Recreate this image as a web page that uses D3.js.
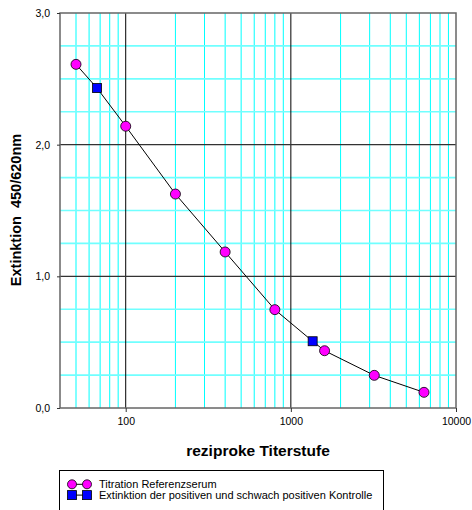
<!DOCTYPE html>
<html>
<head>
<meta charset="utf-8">
<script src="https://cdn.jsdelivr.net/npm/d3@7"></script>
<style>
  body { margin: 0; background: #fff; }
  text { font-family: "Liberation Sans", Arial, sans-serif; }
</style>
</head>
<body>
<div id="chart"></div>
<script>
// Titration des Referenzserums
const titerX = [50, 100, 200, 400, 800, 1600, 3200, 6400];
const titerY = [2.61, 2.14, 1.625, 1.185, 0.747, 0.435, 0.248, 0.119];
// Kontrollen (positiv, schwach positiv)
const controlX = [67, 1355];
const controlY = [2.43, 0.507];

const xTicks = [100, 1000, 10000];
const yTicks = [0, 1, 2, 3];
const xMinor = [50, 60, 70, 80, 90, 200, 300, 400, 500, 600, 700, 800, 900,
                2000, 3000, 4000, 5000, 6000, 7000, 8000, 9000];
const yMinor = [0.25, 0.5, 0.75, 1.25, 1.5, 1.75, 2.25, 2.5, 2.75];

const legendLabels = ['Titration Referenzserum',
                      'Extinktion der positiven und schwach positiven Kontrolle'];

const W = 472, H = 510;
const margin = {top: 13, right: 16, bottom: 102, left: 60};
const width = W - margin.left - margin.right,
      height = H - margin.top - margin.bottom;

const svg = d3.select('#chart').append('svg')
    .attr('width', W)
    .attr('height', H);

const g = svg.append('g')
    .attr('transform', 'translate(' + margin.left + ',' + margin.top + ')');

const x = d3.scaleLog().domain([40, 10000]).range([0, width]);
const y = d3.scaleLinear().domain([0, 3]).range([height, 0]);

// minor grid
g.selectAll('.vminor').data(xMinor).enter().append('line')
    .attr('x1', d => x(d)).attr('x2', d => x(d))
    .attr('y1', 0).attr('y2', height)
    .attr('stroke', '#00ffff').attr('stroke-width', 1);

g.selectAll('.hminor').data(yMinor).enter().append('line')
    .attr('x1', 0).attr('x2', width)
    .attr('y1', d => y(d)).attr('y2', d => y(d))
    .attr('stroke', '#70ffff').attr('stroke-width', 1.6);

// major grid
g.selectAll('.vmajor').data([100, 1000]).enter().append('line')
    .attr('x1', d => x(d)).attr('x2', d => x(d))
    .attr('y1', 0).attr('y2', height)
    .attr('stroke', '#000').attr('stroke-width', 1);

g.selectAll('.hmajor').data([1, 2]).enter().append('line')
    .attr('x1', 0).attr('x2', width)
    .attr('y1', d => y(d)).attr('y2', d => y(d))
    .attr('stroke', '#333').attr('stroke-width', 1.2);

// frame
g.append('rect')
    .attr('width', width).attr('height', height)
    .attr('fill', 'none').attr('stroke', '#666').attr('stroke-width', 1.5);

// axes
const xAxis = g.append('g')
    .attr('transform', 'translate(0,' + height + ')')
    .call(d3.axisBottom(x).tickValues(xTicks).tickFormat(d3.format('d'))
      .tickSize(4).tickSizeOuter(0).tickPadding(6));

const yAxis = g.append('g')
    .call(d3.axisLeft(y).tickValues(yTicks).tickFormat(d => d3.format('.1f')(d).replace('.', ','))
      .tickSize(3).tickSizeOuter(0).tickPadding(7));

[xAxis, yAxis].forEach(a => {
  a.select('.domain').remove();
  a.selectAll('line').attr('stroke', '#333');
  a.selectAll('text').attr('font-size', 10.5).attr('fill', '#000')
    .style('font-family', '"Liberation Sans", Arial, sans-serif');
});

// line through all points
const all = titerX.map((v, i) => [v, titerY[i]])
    .concat(controlX.map((v, i) => [v, controlY[i]]))
    .sort((a, b) => a[0] - b[0]);

g.append('path')
    .datum(all)
    .attr('fill', 'none')
    .attr('stroke', '#000')
    .attr('stroke-width', 1)
    .attr('d', d3.line().x(d => x(d[0])).y(d => y(d[1])));

g.selectAll('.titer').data(titerX).enter().append('circle')
    .attr('cx', d => x(d))
    .attr('cy', (d, i) => y(titerY[i]))
    .attr('r', 5)
    .attr('fill', '#ff00ff').attr('stroke', '#000').attr('stroke-width', 0.8);

g.selectAll('.control').data(controlX).enter().append('rect')
    .attr('x', d => x(d) - 4.5)
    .attr('y', (d, i) => y(controlY[i]) - 4.5)
    .attr('width', 9).attr('height', 9)
    .attr('fill', '#0000ff').attr('stroke', '#000').attr('stroke-width', 0.8);

// axis titles
svg.append('text')
    .attr('x', 258).attr('y', 456)
    .attr('text-anchor', 'middle')
    .attr('font-size', 15.5).attr('font-weight', 'bold')
    .text('reziproke Titerstufe');

svg.append('text')
    .attr('transform', 'translate(21,210) rotate(-90)')
    .attr('text-anchor', 'middle')
    .attr('font-size', 14.5).attr('font-weight', 'bold')
    .style('white-space', 'pre')
    .text('Extinktion  450/620nm');

// legend
const lg = svg.append('g');
lg.append('rect')
    .attr('x', 59.5).attr('y', 470.5)
    .attr('width', 324).attr('height', 50)
    .attr('fill', '#fff').attr('stroke', '#000').attr('stroke-width', 1);

const rows = lg.selectAll('.row').data(legendLabels).enter().append('g')
    .attr('transform', (d, i) => 'translate(0,' + (484.3 + i * 10.8) + ')');

rows.append('line')
    .attr('x1', 72).attr('x2', 87).attr('y1', 0).attr('y2', 0)
    .attr('stroke', '#000').attr('stroke-width', 1);

rows.filter((d, i) => i === 0).selectAll('circle').data([72, 87]).enter().append('circle')
    .attr('cx', d => d).attr('cy', 0).attr('r', 4.5)
    .attr('fill', '#ff00ff').attr('stroke', '#000').attr('stroke-width', 0.8);

rows.filter((d, i) => i === 1).selectAll('rect').data([72, 87]).enter().append('rect')
    .attr('x', d => d - 4.5).attr('y', -4.5).attr('width', 9).attr('height', 9)
    .attr('fill', '#0000ff').attr('stroke', '#000').attr('stroke-width', 0.8);

rows.append('text')
    .attr('x', 99).attr('y', 0).attr('dy', '0.35em')
    .attr('font-size', 11)
    .text(d => d);
</script>
</body>
</html>
